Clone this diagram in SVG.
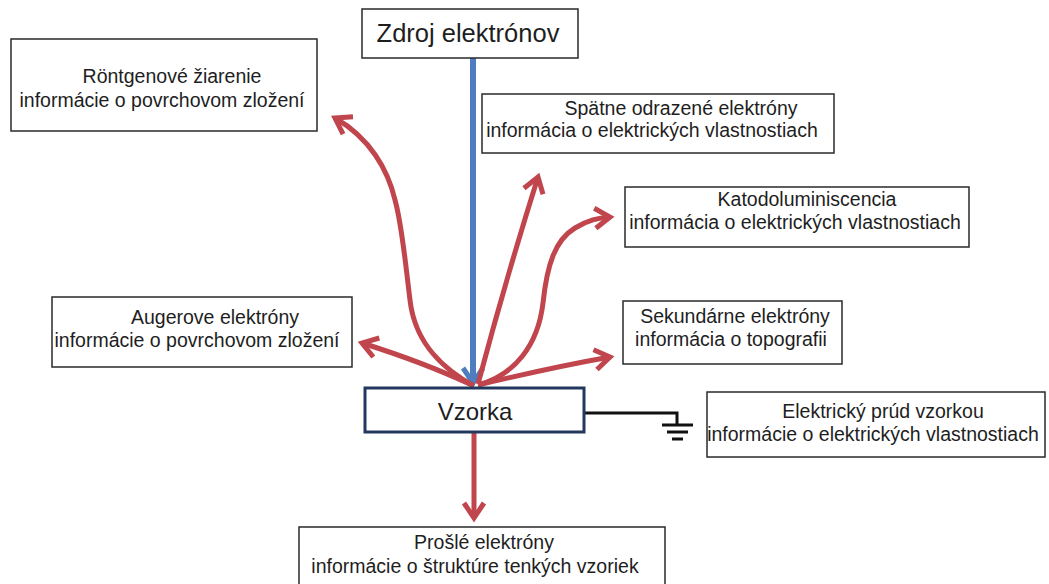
<svg xmlns="http://www.w3.org/2000/svg" width="1049" height="584" viewBox="0 0 1049 584">
<style>
.box{fill:#fff;stroke:#2a2a2a;stroke-width:1.5}
.t{font-family:"Liberation Sans",Arial,sans-serif;font-size:19.5px;fill:#1e1e1e;text-anchor:middle}
.red{fill:none;stroke:#C0454C;stroke-width:5;stroke-linecap:butt}
.blue{fill:none;stroke:#4E7EBF;stroke-width:6}
.gnd{fill:none;stroke:#111;stroke-width:3}
</style>
<defs>
<marker id="ar" viewBox="0 0 26 26" refX="20" refY="13" markerWidth="26" markerHeight="26" markerUnits="userSpaceOnUse" orient="auto">
<path d="M5,3 L20,13 L5,23" fill="none" stroke="#C0454C" stroke-width="5" stroke-linejoin="miter"/>
</marker>
<marker id="ab" viewBox="0 0 26 26" refX="20" refY="13" markerWidth="26" markerHeight="26" markerUnits="userSpaceOnUse" orient="auto">
<path d="M5,3 L20,13 L5,23" fill="none" stroke="#4E7EBF" stroke-width="5" stroke-linejoin="miter"/>
</marker>
</defs>
<rect width="1049" height="584" fill="#fff"/>
<g id="connectors">
<path class="blue" d="M473,58 L473,383" marker-end="url(#ab)"/>
<path class="red" d="M474,386 C445,370 415,345 410,300 C405,260 402,225 395,200 C388,170 370,138 335,118" marker-end="url(#ar)"/>
<path class="red" d="M478,384 C495,320 515,250 538,177" marker-end="url(#ar)"/>
<path class="red" d="M478,385 C515,375 538,345 543,303 C547,265 555,240 575,228 C588,220 598,218 610,217" marker-end="url(#ar)"/>
<path class="red" d="M478,385 C520,375 565,365 610,357" marker-end="url(#ar)"/>
<path class="red" d="M472,385 C440,370 400,355 362,343" marker-end="url(#ar)"/>
<path class="red" d="M474,432 L474,518" marker-end="url(#ar)"/>
<path class="gnd" d="M584,413 H677 V425"/>
<path class="gnd" d="M662,425 H693 M667,432 H688 M672,439 H683"/>
</g>
<g id="zdroj">
<rect class="box" x="362" y="9" width="216" height="49"/>
<text class="t" x="468" y="42" style="font-size:25.5px">Zdroj elektrónov</text>
</g>
<g id="rontgen">
<rect class="box" x="11" y="39" width="306" height="92"/>
<text class="t" x="172" y="83">Röntgenové žiarenie</text>
<text class="t" x="162" y="107">informácie o povrchovom zložení</text>
</g>
<g id="spatne">
<rect class="box" x="482" y="94" width="352" height="59"/>
<text class="t" x="681" y="115">Spätne odrazené elektróny</text>
<text class="t" x="652" y="137">informácia o elektrických vlastnostiach</text>
</g>
<g id="katodo">
<rect class="box" x="625" y="187" width="344" height="60"/>
<text class="t" x="807" y="206">Katodoluminiscencia</text>
<text class="t" x="795" y="229">informácia o elektrických vlastnostiach</text>
</g>
<g id="sekundarne">
<rect class="box" x="623" y="301" width="219" height="63"/>
<text class="t" x="735" y="323">Sekundárne elektróny</text>
<text class="t" x="731" y="346">informácia o topografii</text>
</g>
<g id="auger">
<rect class="box" x="52" y="297" width="300" height="70"/>
<text class="t" x="215" y="324">Augerove elektróny</text>
<text class="t" x="197" y="347">informácie o povrchovom zložení</text>
</g>
<g id="vzorka">
<rect x="365" y="388" width="219" height="44" fill="#fff" stroke="#22385E" stroke-width="3"/>
<text class="t" x="475" y="420" style="font-size:24px">Vzorka</text>
</g>
<g id="prud">
<rect class="box" x="707" y="392" width="338" height="65"/>
<text class="t" x="883" y="418">Elektrický prúd vzorkou</text>
<text class="t" x="873" y="441">informácie o elektrických vlastnostiach</text>
</g>
<g id="presle">
<rect class="box" x="299" y="527" width="366" height="70"/>
<text class="t" x="484" y="549">Prošlé elektróny</text>
<text class="t" x="475" y="573">informácie o štruktúre tenkých vzoriek</text>
</g>
</svg>
